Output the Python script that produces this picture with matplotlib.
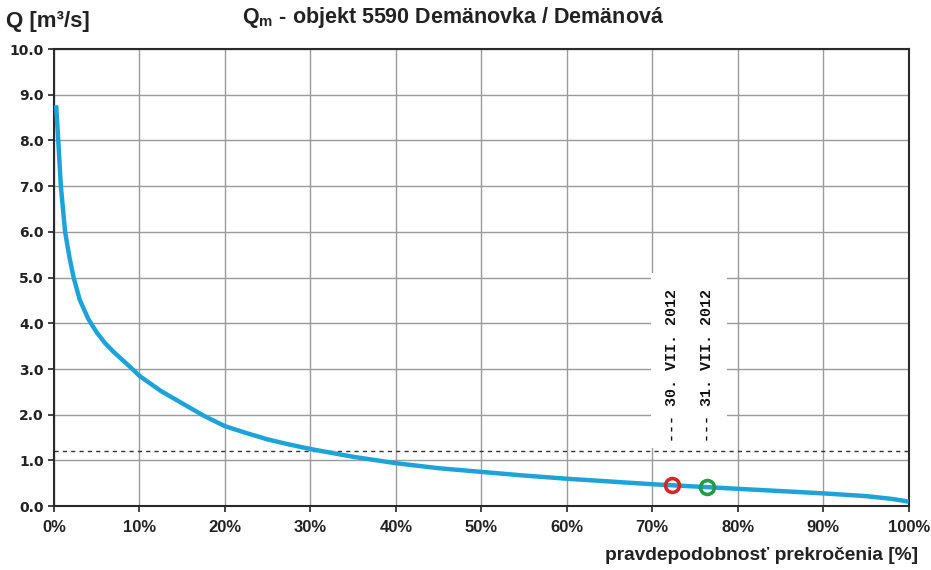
import matplotlib
matplotlib.use("Agg")
import matplotlib.pyplot as plt
from matplotlib.patches import Rectangle

# duration curve of mean daily discharge
prob = [0.25, 0.5, 0.8, 1.3, 1.8, 2.3, 3.0, 4.0, 5.0, 6.0, 7.0, 8.0, 9.0, 10,
        12.5, 15, 17.5, 20, 22.5, 25, 27.5, 30, 35, 40, 45, 50, 55, 60, 65,
        70, 75, 80, 85, 90, 95, 98, 100]
flow = [8.77, 8.0, 7.0, 6.0, 5.45, 5.0, 4.52, 4.1, 3.8, 3.56, 3.37, 3.2,
        3.03, 2.85, 2.52, 2.25, 1.98, 1.75, 1.6, 1.46, 1.35, 1.25, 1.08, 0.94,
        0.83, 0.75, 0.67, 0.60, 0.54, 0.48, 0.43, 0.38, 0.33, 0.28, 0.22,
        0.16, 0.10]

# highlighted days
event_labels = ["--- 30. VII. 2012", "--- 31. VII. 2012"]
event_prob = [72.3, 76.4]
event_flow = [0.47, 0.42]
event_colors = ["#d7262e", "#1f9e4a"]

threshold = 1.2

xticks = list(range(0, 101, 10))
yticks = [i for i in range(0, 11)]

narrow = "Liberation Sans"

plt.rcParams["mathtext.default"] = "regular"

fig = plt.figure(figsize=(9.31, 5.70), dpi=100)
ax = fig.add_axes([0.058, 0.112, 0.918, 0.802])

ax.set_xlim(0, 100)
ax.set_ylim(0, 10)
ax.set_xticks(xticks)
ax.set_yticks(yticks)
ax.set_xticklabels([f"{t}%" for t in xticks], fontfamily=narrow,
                   fontweight="bold", fontsize=12, color="#222222")
ax.set_yticklabels([f"{t:.1f}" for t in yticks], fontfamily="DejaVu Sans",
                   fontweight="bold", fontsize=10, color="#222222")
ax.tick_params(axis="both", direction="out", length=4, width=1.2, color="#222222")
ax.tick_params(axis="x", pad=6)
ax.grid(True, color="#9a9a9a", linewidth=1.0)
ax.set_axisbelow(True)
for s in ax.spines.values():
    s.set_color("#2a2a2a")
    s.set_linewidth(1.5)

ax.axhline(threshold, color="#333333", linewidth=1.0, linestyle=(0, (3, 3)),
           zorder=2)

# white strip behind the date labels
ax.add_patch(Rectangle((69.9, 1.28), 8.9, 3.82, facecolor="white",
                       edgecolor="none", zorder=1.5))

ax.plot(prob, flow, color="#1ea3d9", linewidth=3.2, solid_capstyle="butt",
        zorder=3)

for lab, p, q, c in zip(event_labels, event_prob, event_flow, event_colors):
    ax.plot(p, q, marker="o", markersize=10, markerfacecolor="none",
            markeredgecolor=c, markeredgewidth=2.6, zorder=4)
    ax.text(p, 1.41, lab, rotation=90, ha="center", va="bottom",
            fontfamily="Liberation Mono", fontweight="bold", fontsize=10.8,
            color="#111111", zorder=5)

fig.text(0.487, 0.969, "Q$_{m}$ - objekt 5590 Demänovka / Demänová",
         ha="center", va="center", fontfamily=narrow, fontweight="bold",
         fontsize=15.5, color="#222222")
fig.text(0.006, 0.962, "Q [m³/s]", ha="left", va="center", fontfamily=narrow,
         fontweight="bold", fontsize=16, color="#222222")
fig.text(0.986, 0.025, "pravdepodobnosť prekročenia [%]", ha="right",
         va="center", fontfamily=narrow, fontweight="bold", fontsize=13.8,
         color="#222222")

fig.savefig("out.png", dpi=100, facecolor="white")
